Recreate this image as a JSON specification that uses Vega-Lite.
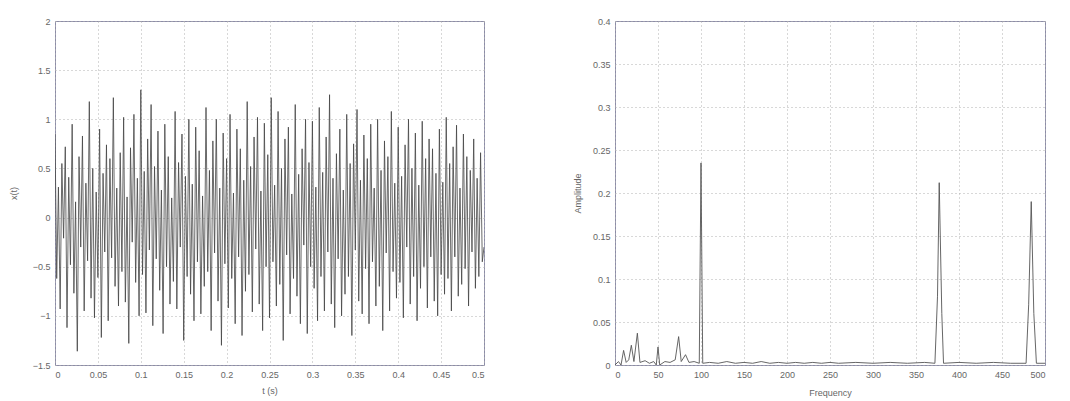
{
  "$schema": "https://vega.github.io/schema/vega-lite/v6.json",
  "background": "white",
  "padding": {"left": 8, "top": 16, "right": 5, "bottom": 5},
  "spacing": 131,
  "bounds": "flush",
  "config": {
    "font": "Liberation Sans",
    "view": {"stroke": "#8c8ca8", "strokeWidth": 1},
    "axis": {
      "grid": true,
      "gridColor": "#b0b0b0",
      "gridDash": [1, 3],
      "gridWidth": 1,
      "domain": false,
      "ticks": false,
      "labelFontSize": 9,
      "labelColor": "#666",
      "labelPadding": 5,
      "titleFontSize": 9,
      "titleFontWeight": "normal",
      "titleColor": "#666"
    }
  },
  "datasets": {
    "signal": [
      {"t":0,"x":0.85},{"t":0.002,"x":-0.62},{"t":0.004,"x":0.31},{"t":0.006,"x":-0.93},{"t":0.008,"x":0.55},{"t":0.01,"x":-0.21},{"t":0.012,"x":0.72},{"t":0.014,"x":-1.12},{"t":0.016,"x":0.41},{"t":0.018,"x":-0.48},
      {"t":0.02,"x":0.95},{"t":0.022,"x":-0.77},{"t":0.024,"x":0.16},{"t":0.026,"x":-1.36},{"t":0.028,"x":0.62},{"t":0.03,"x":-0.3},{"t":0.032,"x":0.83},{"t":0.034,"x":-0.95},{"t":0.036,"x":0.35},{"t":0.038,"x":-0.44},
      {"t":0.04,"x":1.18},{"t":0.042,"x":-0.82},{"t":0.044,"x":0.5},{"t":0.046,"x":-1.02},{"t":0.048,"x":0.26},{"t":0.05,"x":-0.61},{"t":0.052,"x":0.9},{"t":0.054,"x":-1.22},{"t":0.056,"x":0.45},{"t":0.058,"x":-0.35},
      {"t":0.06,"x":0.74},{"t":0.062,"x":-1.05},{"t":0.064,"x":0.6},{"t":0.066,"x":-0.41},{"t":0.068,"x":1.22},{"t":0.07,"x":-0.7},{"t":0.072,"x":0.3},{"t":0.074,"x":-0.9},{"t":0.076,"x":0.66},{"t":0.078,"x":-0.55},
      {"t":0.08,"x":1.02},{"t":0.082,"x":-0.86},{"t":0.084,"x":0.21},{"t":0.086,"x":-1.28},{"t":0.088,"x":0.71},{"t":0.09,"x":-0.25},{"t":0.092,"x":1.05},{"t":0.094,"x":-0.66},{"t":0.096,"x":0.4},{"t":0.098,"x":-1.0},
      {"t":0.1,"x":1.3},{"t":0.102,"x":-0.58},{"t":0.104,"x":0.47},{"t":0.106,"x":-0.97},{"t":0.108,"x":0.8},{"t":0.11,"x":-0.33},{"t":0.112,"x":1.15},{"t":0.114,"x":-1.1},{"t":0.116,"x":0.52},{"t":0.118,"x":-0.42},
      {"t":0.12,"x":0.88},{"t":0.122,"x":-0.74},{"t":0.124,"x":0.28},{"t":0.126,"x":-1.18},{"t":0.128,"x":0.95},{"t":0.13,"x":-0.5},{"t":0.132,"x":0.62},{"t":0.134,"x":-0.88},{"t":0.136,"x":0.2},{"t":0.138,"x":-0.65},
      {"t":0.14,"x":1.08},{"t":0.142,"x":-0.93},{"t":0.144,"x":0.56},{"t":0.146,"x":-0.3},{"t":0.148,"x":0.85},{"t":0.15,"x":-1.25},{"t":0.152,"x":0.42},{"t":0.154,"x":-0.6},{"t":0.156,"x":1.0},{"t":0.158,"x":-0.78},
      {"t":0.16,"x":0.34},{"t":0.162,"x":-1.05},{"t":0.164,"x":0.92},{"t":0.166,"x":-0.45},{"t":0.168,"x":0.68},{"t":0.17,"x":-0.98},{"t":0.172,"x":0.22},{"t":0.174,"x":-0.7},{"t":0.176,"x":1.12},{"t":0.178,"x":-0.55},
      {"t":0.18,"x":0.48},{"t":0.182,"x":-1.15},{"t":0.184,"x":0.78},{"t":0.186,"x":-0.36},{"t":0.188,"x":1.0},{"t":0.19,"x":-0.85},{"t":0.192,"x":0.3},{"t":0.194,"x":-1.3},{"t":0.196,"x":0.86},{"t":0.198,"x":-0.47},
      {"t":0.2,"x":0.6},{"t":0.202,"x":-0.92},{"t":0.204,"x":1.05},{"t":0.206,"x":-0.62},{"t":0.208,"x":0.25},{"t":0.21,"x":-1.08},{"t":0.212,"x":0.9},{"t":0.214,"x":-0.4},{"t":0.216,"x":0.7},{"t":0.218,"x":-1.2},
      {"t":0.22,"x":0.38},{"t":0.222,"x":-0.75},{"t":0.224,"x":1.18},{"t":0.226,"x":-0.58},{"t":0.228,"x":0.52},{"t":0.23,"x":-0.96},{"t":0.232,"x":0.82},{"t":0.234,"x":-0.32},{"t":0.236,"x":1.02},{"t":0.238,"x":-0.88},
      {"t":0.24,"x":0.27},{"t":0.242,"x":-1.15},{"t":0.244,"x":0.96},{"t":0.246,"x":-0.5},{"t":0.248,"x":0.64},{"t":0.25,"x":-1.02},{"t":0.252,"x":1.22},{"t":0.254,"x":-0.45},{"t":0.256,"x":0.33},{"t":0.258,"x":-0.9},
      {"t":0.26,"x":1.08},{"t":0.262,"x":-0.68},{"t":0.264,"x":0.5},{"t":0.266,"x":-1.25},{"t":0.268,"x":0.8},{"t":0.27,"x":-0.38},{"t":0.272,"x":0.92},{"t":0.274,"x":-0.98},{"t":0.276,"x":0.24},{"t":0.278,"x":-0.62},
      {"t":0.28,"x":1.15},{"t":0.282,"x":-0.8},{"t":0.284,"x":0.44},{"t":0.286,"x":-1.08},{"t":0.288,"x":0.7},{"t":0.29,"x":-0.28},{"t":0.292,"x":1.0},{"t":0.294,"x":-1.18},{"t":0.296,"x":0.56},{"t":0.298,"x":-0.5},
      {"t":0.3,"x":0.98},{"t":0.302,"x":-0.72},{"t":0.304,"x":0.31},{"t":0.306,"x":-1.05},{"t":0.308,"x":1.12},{"t":0.31,"x":-0.6},{"t":0.312,"x":0.46},{"t":0.314,"x":-0.95},{"t":0.316,"x":0.82},{"t":0.318,"x":-0.35},
      {"t":0.32,"x":1.25},{"t":0.322,"x":-0.88},{"t":0.324,"x":0.4},{"t":0.326,"x":-1.12},{"t":0.328,"x":0.65},{"t":0.33,"x":-0.42},{"t":0.332,"x":0.9},{"t":0.334,"x":-1.0},{"t":0.336,"x":0.28},{"t":0.338,"x":-0.78},
      {"t":0.34,"x":1.05},{"t":0.342,"x":-0.6},{"t":0.344,"x":0.55},{"t":0.346,"x":-1.2},{"t":0.348,"x":0.75},{"t":0.35,"x":-0.33},{"t":0.352,"x":1.1},{"t":0.354,"x":-0.85},{"t":0.356,"x":0.38},{"t":0.358,"x":-0.98},
      {"t":0.36,"x":0.84},{"t":0.362,"x":-0.52},{"t":0.364,"x":0.6},{"t":0.366,"x":-1.08},{"t":0.368,"x":0.95},{"t":0.37,"x":-0.45},{"t":0.372,"x":0.3},{"t":0.374,"x":-0.9},{"t":0.376,"x":1.0},{"t":0.378,"x":-0.7},
      {"t":0.38,"x":0.48},{"t":0.382,"x":-1.15},{"t":0.384,"x":0.78},{"t":0.386,"x":-0.36},{"t":0.388,"x":0.62},{"t":0.39,"x":-0.95},{"t":0.392,"x":1.08},{"t":0.394,"x":-0.55},{"t":0.396,"x":0.35},{"t":0.398,"x":-0.82},
      {"t":0.4,"x":0.92},{"t":0.402,"x":-0.66},{"t":0.404,"x":0.42},{"t":0.406,"x":-1.02},{"t":0.408,"x":0.74},{"t":0.41,"x":-0.3},{"t":0.412,"x":1.0},{"t":0.414,"x":-0.88},{"t":0.416,"x":0.5},{"t":0.418,"x":-0.6},
      {"t":0.42,"x":0.86},{"t":0.422,"x":-1.05},{"t":0.424,"x":0.33},{"t":0.426,"x":-0.72},{"t":0.428,"x":0.98},{"t":0.43,"x":-0.5},{"t":0.432,"x":0.6},{"t":0.434,"x":-0.92},{"t":0.436,"x":0.8},{"t":0.438,"x":-0.4},
      {"t":0.44,"x":0.7},{"t":0.442,"x":-0.85},{"t":0.444,"x":0.45},{"t":0.446,"x":-1.0},{"t":0.448,"x":0.9},{"t":0.45,"x":-0.58},{"t":0.452,"x":0.36},{"t":0.454,"x":-0.78},{"t":0.456,"x":1.02},{"t":0.458,"x":-0.62},
      {"t":0.46,"x":0.55},{"t":0.462,"x":-0.95},{"t":0.464,"x":0.72},{"t":0.466,"x":-0.4},{"t":0.468,"x":0.94},{"t":0.47,"x":-0.8},{"t":0.472,"x":0.3},{"t":0.474,"x":-0.68},{"t":0.476,"x":0.85},{"t":0.478,"x":-0.52},
      {"t":0.48,"x":0.62},{"t":0.482,"x":-0.9},{"t":0.484,"x":0.48},{"t":0.486,"x":-0.35},{"t":0.488,"x":0.8},{"t":0.49,"x":-0.72},{"t":0.492,"x":0.4},{"t":0.494,"x":-0.6},{"t":0.496,"x":0.66},{"t":0.498,"x":-0.45},
      {"t":0.5,"x":-0.3}
    ],
    "spectrum": [
      {"f":0,"a":0},{"f":4,"a":0.004},{"f":7,"a":0},{"f":10,"a":0.017},{"f":13,"a":0.003},{"f":16,"a":0.006},{"f":19,"a":0.023},{"f":22,"a":0.004},{"f":26,"a":0.037},{"f":29,"a":0.003},
      {"f":35,"a":0.005},{"f":40,"a":0.002},{"f":45,"a":0.004},{"f":48,"a":0},{"f":50,"a":0.021},{"f":52,"a":0},{"f":58,"a":0.004},{"f":64,"a":0.003},{"f":70,"a":0.006},{"f":74,"a":0.033},
      {"f":77,"a":0.004},{"f":82,"a":0.012},{"f":86,"a":0.003},{"f":92,"a":0.004},{"f":98,"a":0.002},{"f":100,"a":0.235},{"f":102,"a":0.002},{"f":110,"a":0.003},{"f":120,"a":0.002},{"f":130,"a":0.004},
      {"f":140,"a":0.002},{"f":150,"a":0.003},{"f":160,"a":0.002},{"f":170,"a":0.004},{"f":180,"a":0.002},{"f":190,"a":0.003},{"f":200,"a":0.002},{"f":210,"a":0.003},{"f":220,"a":0.002},{"f":230,"a":0.003},
      {"f":240,"a":0.002},{"f":250,"a":0.003},{"f":260,"a":0.002},{"f":280,"a":0.003},{"f":300,"a":0.002},{"f":320,"a":0.003},{"f":340,"a":0.002},{"f":360,"a":0.003},{"f":372,"a":0.002},{"f":375,"a":0.08},
      {"f":377,"a":0.212},{"f":380,"a":0.06},{"f":382,"a":0.002},{"f":400,"a":0.003},{"f":420,"a":0.002},{"f":440,"a":0.003},{"f":460,"a":0.002},{"f":478,"a":0.002},{"f":481,"a":0.07},{"f":484,"a":0.19},
      {"f":487,"a":0.06},{"f":490,"a":0.002},{"f":500,"a":0.002}
    ]
  },
  "hconcat": [
    {
      "width": 429,
      "height": 344,
      "data": {"name": "signal"},
      "mark": {"type": "line", "color": "#444444", "strokeWidth": 0.8, "clip": true},
      "encoding": {
        "x": {"field": "t", "type": "quantitative", "title": "t (s)",
              "scale": {"domain": [0, 0.5], "nice": false, "zero": false},
              "axis": {"values": [0,0.05,0.1,0.15,0.2,0.25,0.3,0.35,0.4,0.45,0.5], "format": "~g", "titlePadding": 7}},
        "y": {"field": "x", "type": "quantitative", "title": "x(t)",
              "scale": {"domain": [-1.5, 2], "nice": false, "zero": false},
              "axis": {"values": [-1.5,-1,-0.5,0,0.5,1,1.5,2], "format": "~g", "titlePadding": 14}}
      }
    },
    {
      "width": 430,
      "height": 344,
      "data": {"name": "spectrum"},
      "mark": {"type": "line", "color": "#555555", "strokeWidth": 0.9, "clip": true},
      "encoding": {
        "x": {"field": "f", "type": "quantitative", "title": "Frequency",
              "scale": {"domain": [0, 500], "nice": false},
              "axis": {"values": [0,50,100,150,200,250,300,350,400,450,500], "titlePadding": 9}},
        "y": {"field": "a", "type": "quantitative", "title": "Amplitude",
              "scale": {"domain": [0, 0.4], "nice": false},
              "axis": {"values": [0,0.05,0.1,0.15,0.2,0.25,0.3,0.35,0.4], "format": "~g", "titlePadding": 10}}
      }
    }
  ]
}
